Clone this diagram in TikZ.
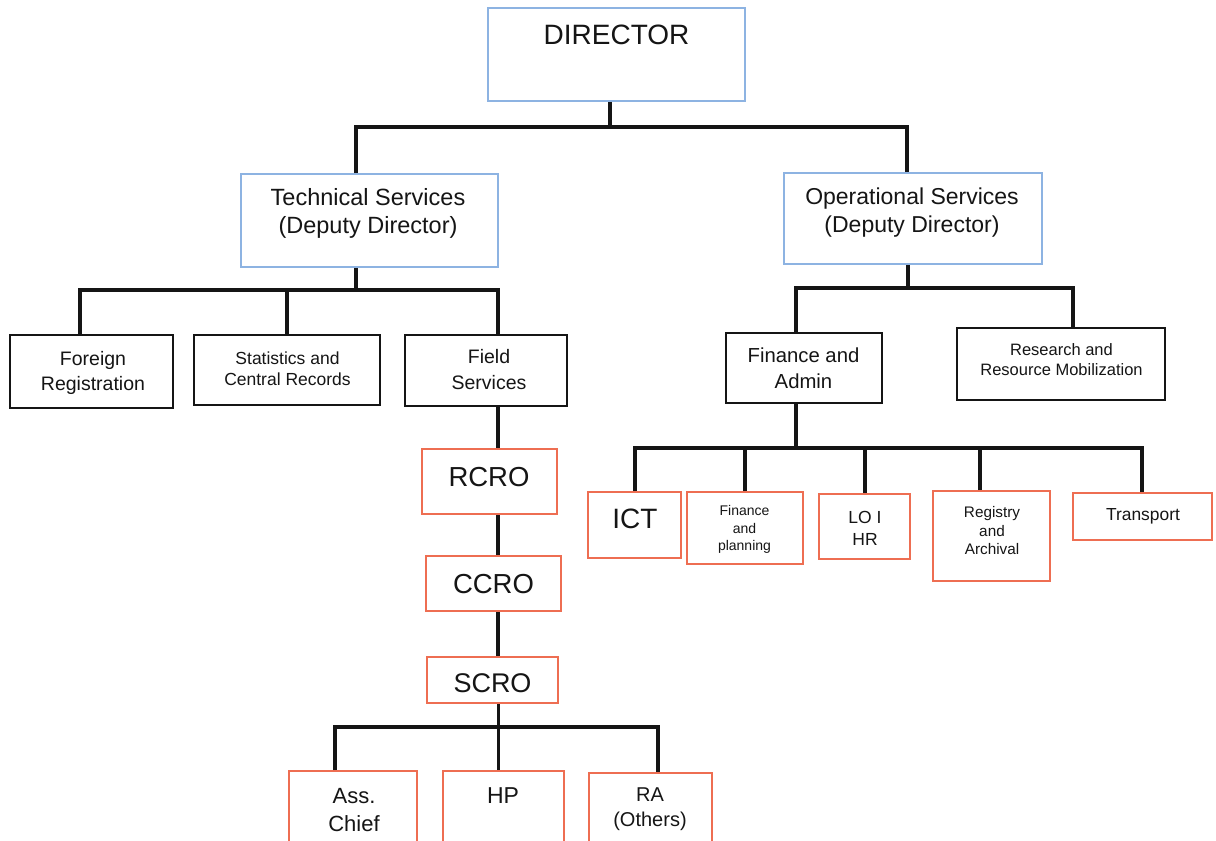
\documentclass[tikz,border=0pt]{standalone}
\usepackage{fontspec}
\setmainfont{Liberation Sans}
\newcommand{\setfs}[2]{\fontsize{#1}{#2}\selectfont}
\definecolor{boxblue}{HTML}{8DB3E2}
\definecolor{boxred}{HTML}{EE6E52}
\definecolor{ink}{HTML}{151515}
\tikzset{
  sz/.style 2 args={minimum width=#1pt, minimum height=#2pt},
  bluebox/.style={draw=boxblue, line width=1.6pt, rectangle, inner sep=0pt},
  blackbox/.style={draw=ink, line width=2.2pt, rectangle, inner sep=0pt},
  redbox/.style={draw=boxred, line width=2pt, rectangle, inner sep=0pt},
  conn/.style={draw=ink, line width=3.6pt, line join=miter},
  txt/.style={align=center, inner sep=0pt, text=ink},
}
\begin{document}
\begin{tikzpicture}[x=1pt,y=-1pt]
\clip (0,0) rectangle (1216,841);
\fill[white] (0,0) rectangle (1216,841);

% ---------- boxes ----------
\node[bluebox, sz={257}{93}] (dir)  at (616.5,54.5) {};
\node[bluebox, sz={257}{93}] (tech) at (369.5,220.5) {};
\node[bluebox, sz={258}{91}] (ops)  at (913,218.5) {};

\node[blackbox, sz={163}{73}] (fr)   at (91.5,371.5) {};
\node[blackbox, sz={186}{70}] (stat) at (287,370) {};
\node[blackbox, sz={162}{71}] (fs)   at (486,370.5) {};

\node[redbox, sz={135}{65}] (rcro) at (489.5,481.5) {};
\node[redbox, sz={135}{55}] (ccro) at (493.5,583.5) {};
\node[redbox, sz={131}{46}] (scro) at (492.5,680) {};

\node[redbox, sz={128}{79}] (ass) at (353,810.5) {};
\node[redbox, sz={121}{79}] (hp)  at (503.5,810.5) {};
\node[redbox, sz={123}{77}] (ra)  at (650.5,811.5) {};

\node[blackbox, sz={156}{70}] (fa)  at (804,368) {};
\node[blackbox, sz={208}{72}] (rrm) at (1061,364) {};

\node[redbox, sz={93}{66}]  (ict) at (634.5,525) {};
\node[redbox, sz={116}{72}] (fp)  at (745,528) {};
\node[redbox, sz={91}{65}]  (lo)  at (864.5,526.5) {};
\node[redbox, sz={117}{90}] (reg) at (991.5,536) {};
\node[redbox, sz={139}{47}] (tr)  at (1142.5,516.5) {};

% ---------- texts ----------
\node[txt, font=\setfs{28}{32}] (dirT) at (616.5,35) {DIRECTOR};
\node[txt, font=\setfs{23.5}{28}] (techT) at (368,213) {Technical Services\\(Deputy Director)};
\node[txt, font=\setfs{23}{28}] (opsT) at (912,213) {Operational Services\\(Deputy Director)};

\node[txt, font=\setfs{19.5}{25}] (frT) at (93,373) {Foreign\\Registration};
\node[txt, font=\setfs{17.5}{21}] (statT) at (287.5,368.5) {Statistics and\\Central Records};
\node[txt, font=\setfs{19.5}{26}] (fsT) at (489,370) {Field\\Services};

\node[txt, font=\setfs{27.5}{32}] (rcroT) at (489,477) {RCRO};
\node[txt, font=\setfs{27.5}{32}] (ccroT) at (493.5,584) {CCRO};
\node[txt, font=\setfs{27}{32}] (scroT) at (492.5,683) {SCRO};

\node[txt, font=\setfs{22}{28}] (assT) at (354,810.5) {Ass.\\Chief};
\node[txt, font=\setfs{23}{28}] (hpT) at (503,796) {HP};
\node[txt, font=\setfs{20}{25}] (raT) at (650,809.5) {RA\\(Others)};

\node[txt, font=\setfs{20.3}{26}] (faT) at (803.5,368.5) {Finance and\\Admin};
\node[txt, font=\setfs{16.5}{20}] (rrmT) at (1061.5,359.5) {Research and\\Resource Mobilization};

\node[txt, font=\setfs{28}{32}] (ictT) at (635,518.5) {ICT};
\node[txt, font=\setfs{14}{17.5}] (fpT) at (744.5,529.5) {Finance\\and\\planning};
\node[txt, font=\setfs{17.5}{22}] (loT) at (865,528) {LO I\\HR};
\node[txt, font=\setfs{15.3}{18.5}] (regT) at (992,531) {Registry\\and\\Archival};
\node[txt, font=\setfs{17.4}{21}] (trT) at (1143,516) {Transport};

% ---------- connectors ----------
\coordinate (jd) at (610,127);
\draw[conn] (dir.south -| jd) -- (jd);
\draw[conn] (tech.north -| 356,0) |- (jd);
\draw[conn] (ops.north -| 907,0) |- (jd);

\coordinate (jt) at (356,290);
\draw[conn] (tech.south -| jt) -- (jt);
\draw[conn] (fr.north -| 80,0) |- (jt);
\draw[conn] (stat.north -| 287,0) |- (jt);
\draw[conn] (fs.north -| 498,0) |- (jt);

\draw[conn] (fs.south -| 498,0) -- (rcro.north -| 498,0);
\draw[conn] (rcro.south -| 498,0) -- (ccro.north -| 498,0);
\draw[conn] (ccro.south -| 498,0) -- (scro.north -| 498,0);

\coordinate (js) at (498.5,727);
\draw[conn] (scro.south -| js) -- (js);
\draw[conn] (ass.north -| 335,0) |- (js);
\draw[conn] (hp.north -| js) -- (js);
\draw[conn] (ra.north -| 658,0) |- (js);

\coordinate (jo) at (908,288);
\draw[conn] (ops.south -| jo) -- (jo);
\draw[conn] (fa.north -| 796,0) |- (jo);
\draw[conn] (rrm.north -| 1073,0) |- (jo);

\coordinate (jf) at (796,448);
\draw[conn] (fa.south -| jf) -- (jf);
\draw[conn] (ict.north -| 635,0) |- (jf);
\draw[conn] (fp.north -| 745,0) |- (jf);
\draw[conn] (lo.north -| 865,0) |- (jf);
\draw[conn] (reg.north -| 980,0) |- (jf);
\draw[conn] (tr.north -| 1142,0) |- (jf);
\end{tikzpicture}
\end{document}
